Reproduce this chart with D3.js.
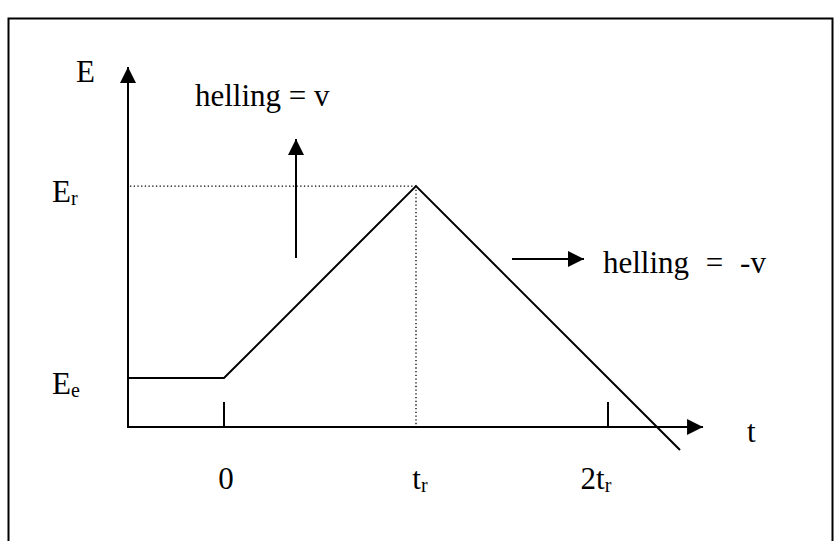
<!DOCTYPE html>
<html>
<head>
<meta charset="utf-8">
<script src="https://cdn.jsdelivr.net/npm/d3@7"></script>
<style>
  html, body { margin: 0; padding: 0; background: #fff; }
  svg { display: block; }
  text { font-family: "Liberation Serif", "Times New Roman", serif; fill: #000; }
</style>
</head>
<body>
<svg id="chart" width="837" height="541"></svg>
<script>
// ---- data (t in units of t_r, E in arbitrary units; E-axis at E = 0) ----
const curveT = [-0.5, 0, 1, 2.375];          // time points of the E(t) curve
const curveE = [0.255, 0.255, 1.255, -0.12]; // E values: E_e, E_e, E_r, beyond 2t_r
const tickT = [0, 1, 2];                     // tick positions on t-axis
const tickLabels = ["0", "t", "2t"];         // tick label main text
const tickSubs = ["", "r", "r"];             // tick label subscripts
const levelE = [0.255, 1.255];               // E_e and E_r levels
const levelSubs = ["e", "r"];
const peak = { t: 1, E: 1.255 };
const axisExtent = { tMin: -0.5, tMax: 2.495, eMax: 1.875 };

const svg = d3.select("#chart");
const x = d3.scaleLinear().domain([0, 1]).range([224, 416]);
const y = d3.scaleLinear().domain([0, 1]).range([427, 235]);

// border frame
svg.append("rect").attr("x", 8.5).attr("y", 18.5).attr("width", 824).attr("height", 560)
  .attr("fill", "none").attr("stroke", "#000").attr("stroke-width", 2);

// arrow marker
const defs = svg.append("defs");
defs.append("marker").attr("id", "arr").attr("viewBox", "0 0 16 16")
  .attr("refX", 16).attr("refY", 8).attr("markerWidth", 16).attr("markerHeight", 16)
  .attr("markerUnits", "userSpaceOnUse").attr("orient", "auto")
  .append("path").attr("d", "M0,0 L16,8 L0,16 Z").attr("fill", "#000");

// axes
svg.append("line").attr("x1", x(axisExtent.tMin)).attr("y1", y(0))
  .attr("x2", x(axisExtent.tMax)).attr("y2", y(0))
  .attr("stroke", "#000").attr("stroke-width", 2).attr("marker-end", "url(#arr)");
svg.append("line").attr("x1", x(axisExtent.tMin)).attr("y1", y(0) + 1)
  .attr("x2", x(axisExtent.tMin)).attr("y2", y(axisExtent.eMax))
  .attr("stroke", "#000").attr("stroke-width", 2).attr("marker-end", "url(#arr)");

// ticks (0 and 2t_r)
svg.selectAll(".tick").data(tickT.filter(d => d !== 1)).enter().append("line")
  .attr("x1", d => x(d)).attr("x2", d => x(d))
  .attr("y1", y(0)).attr("y2", y(0) - 25)
  .attr("stroke", "#000").attr("stroke-width", 2);

// dotted guide lines to the peak
svg.append("line").attr("x1", x(axisExtent.tMin) + 2).attr("y1", y(peak.E))
  .attr("x2", x(peak.t)).attr("y2", y(peak.E))
  .attr("stroke", "#000").attr("stroke-width", 1.3).attr("stroke-dasharray", "1.3,2.4");
svg.append("line").attr("x1", x(peak.t)).attr("y1", y(peak.E))
  .attr("x2", x(peak.t)).attr("y2", y(0) - 1)
  .attr("stroke", "#000").attr("stroke-width", 1.3).attr("stroke-dasharray", "1.3,2.4");

// curve
const line = d3.line().x((d, i) => x(curveT[i])).y((d, i) => y(curveE[i]));
svg.append("path").datum(curveE).attr("d", line)
  .attr("fill", "none").attr("stroke", "#000").attr("stroke-width", 2);

// tick labels
const tl = svg.selectAll(".tl").data(tickT).enter().append("text")
  .attr("x", (d, i) => x(d) + [2, 4, -12][i]).attr("y", 489)
  .attr("text-anchor", "middle").attr("font-size", 31);
tl.append("tspan").text((d, i) => tickLabels[i]);
tl.append("tspan").attr("font-size", 20).attr("dy", 3).text((d, i) => tickSubs[i]);

// E-level labels
const el = svg.selectAll(".el").data(levelE).enter().append("text")
  .attr("x", 52).attr("y", d => y(d) + 16).attr("font-size", 31);
el.append("tspan").text("E");
el.append("tspan").attr("font-size", 20).attr("dy", 3).text((d, i) => levelSubs[i]);

// axis titles
svg.append("text").attr("x", 76).attr("y", 82).attr("font-size", 31).text("E");
svg.append("text").attr("x", 747).attr("y", 442).attr("font-size", 31).text("t");

// slope annotations
svg.append("text").attr("x", 195).attr("y", 106).attr("font-size", 31).text("helling = v");
svg.append("line").attr("x1", 296).attr("y1", 258).attr("x2", 296).attr("y2", 139)
  .attr("stroke", "#000").attr("stroke-width", 2).attr("marker-end", "url(#arr)");
svg.append("text").attr("x", 603).attr("y", 273).attr("font-size", 31)
  .attr("word-spacing", 9).text("helling = -v");
svg.append("line").attr("x1", 512).attr("y1", 259).attr("x2", 584).attr("y2", 259)
  .attr("stroke", "#000").attr("stroke-width", 2).attr("marker-end", "url(#arr)");
</script>
</body>
</html>
